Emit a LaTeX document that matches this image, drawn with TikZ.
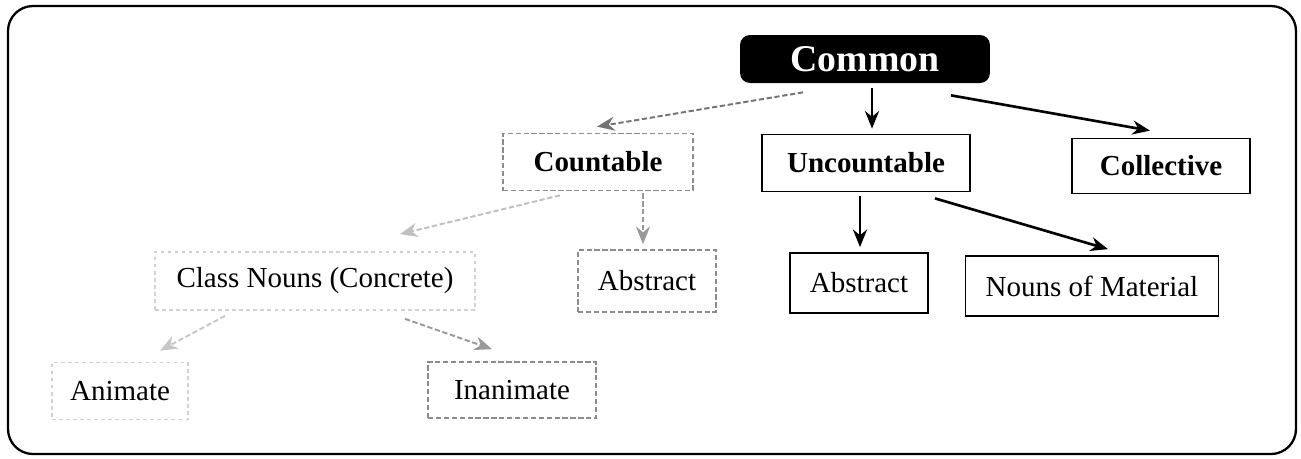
\documentclass[tikz,border=0pt]{standalone}
\usepackage{fontspec}
\setmainfont{Liberation Serif}
\usetikzlibrary{arrows.meta}
\usetikzlibrary{calc,positioning}

\begin{document}
\begin{tikzpicture}[x=0.02cm,y=-0.02cm,>={Stealth[length=10pt,width=8pt]},
		box/.style={draw,line width=1pt,inner sep=0pt,font=\fontsize{16.5}{18}\selectfont},
		fadedbox/.style={box,draw=black!45,dash pattern=on 3pt off 1.5pt},
		ghostbox/.style={box,draw=black!18,dash pattern=on 2pt off 2pt},
		arr/.style={->,line width=1.5pt},
		fadedarr/.style={->,line width=1.1pt,draw=black!40,dash pattern=on 3pt off 1.5pt}]
		\useasboundingbox (0,0) rectangle (1301,458);
		% frame
		\draw[line width=1.3pt,rounded corners=0.5cm] (8,6) rectangle (1296,454);
		% top
		\node[fill=black,text=white,rounded corners=0.2cm,minimum width=5cm,minimum height=0.96cm,inner sep=0pt,font=\fontsize{21.5}{24}\selectfont\bfseries] (common) at (865,59) {Common};
		% second row
		\node[fadedbox,minimum width=3.8cm,minimum height=1.14cm,font=\fontsize{16.5}{18}\selectfont\bfseries] (countable) at (598,162) {Countable};
		\node[box,minimum width=4.16cm,minimum height=1.14cm,font=\fontsize{16.5}{18}\selectfont\bfseries] (uncountable) at (866,163) {Uncountable};
		\node[box,minimum width=3.56cm,minimum height=1.1cm,font=\fontsize{16.5}{18}\selectfont\bfseries] (collective) at (1161,166) {Collective};
		% third row
		\node[ghostbox,minimum width=6.4cm,minimum height=1.16cm] (classnouns) at (315,281) {Class Nouns (Concrete)};
		\node[fadedbox,minimum width=2.76cm,minimum height=1.24cm] (abscount) at (647,281) {Abstract};
		\node[box,minimum width=2.76cm,minimum height=1.2cm] (absuncount) at (859,283) {Abstract};
		\node[box,minimum width=5.06cm,minimum height=1.2cm] (material) at (1092,286) {Nouns of Material};
		% fourth row
		\node[ghostbox,minimum width=2.72cm,minimum height=1.14cm] (animate) at (120,391) {Animate};
		\node[fadedbox,minimum width=3.36cm,minimum height=1.12cm] (inanimate) at (512,390) {Inanimate};
		% arrows
		\draw[fadedarr,draw=black!55] ($(common.south)+(-62,9)$) -- ($(countable.north)+(-1,-6)$);
		\draw[arr] ($(common.south)+(7,5)$) -- ($(uncountable.north)+(6,-5)$);
		\draw[arr] ($(common.south)+(86,12)$) -- ($(collective.north)+(-11,-7)$);
		\draw[fadedarr,draw=black!25] ($(countable.south)+(-38,4)$) -- ($(classnouns.north)+(85,-17)$);
		\draw[fadedarr] ($(countable.south)+(45,2)$) -- ($(abscount.north)+(-4,-5)$);
		\draw[arr] ($(uncountable.south)+(-6,4)$) -- ($(absuncount.north)+(1,-5)$);
		\draw[arr] ($(uncountable.south)+(69,6)$) -- ($(material.north)+(16,-6)$);
		\draw[fadedarr,draw=black!22] ($(classnouns.south)+(-90,5)$) -- ($(animate.north)+(40,-11)$);
		\draw[fadedarr] ($(classnouns.south)+(90,8)$) -- ($(inanimate.north)+(-20,-12)$);
	\end{tikzpicture}
\end{document}
